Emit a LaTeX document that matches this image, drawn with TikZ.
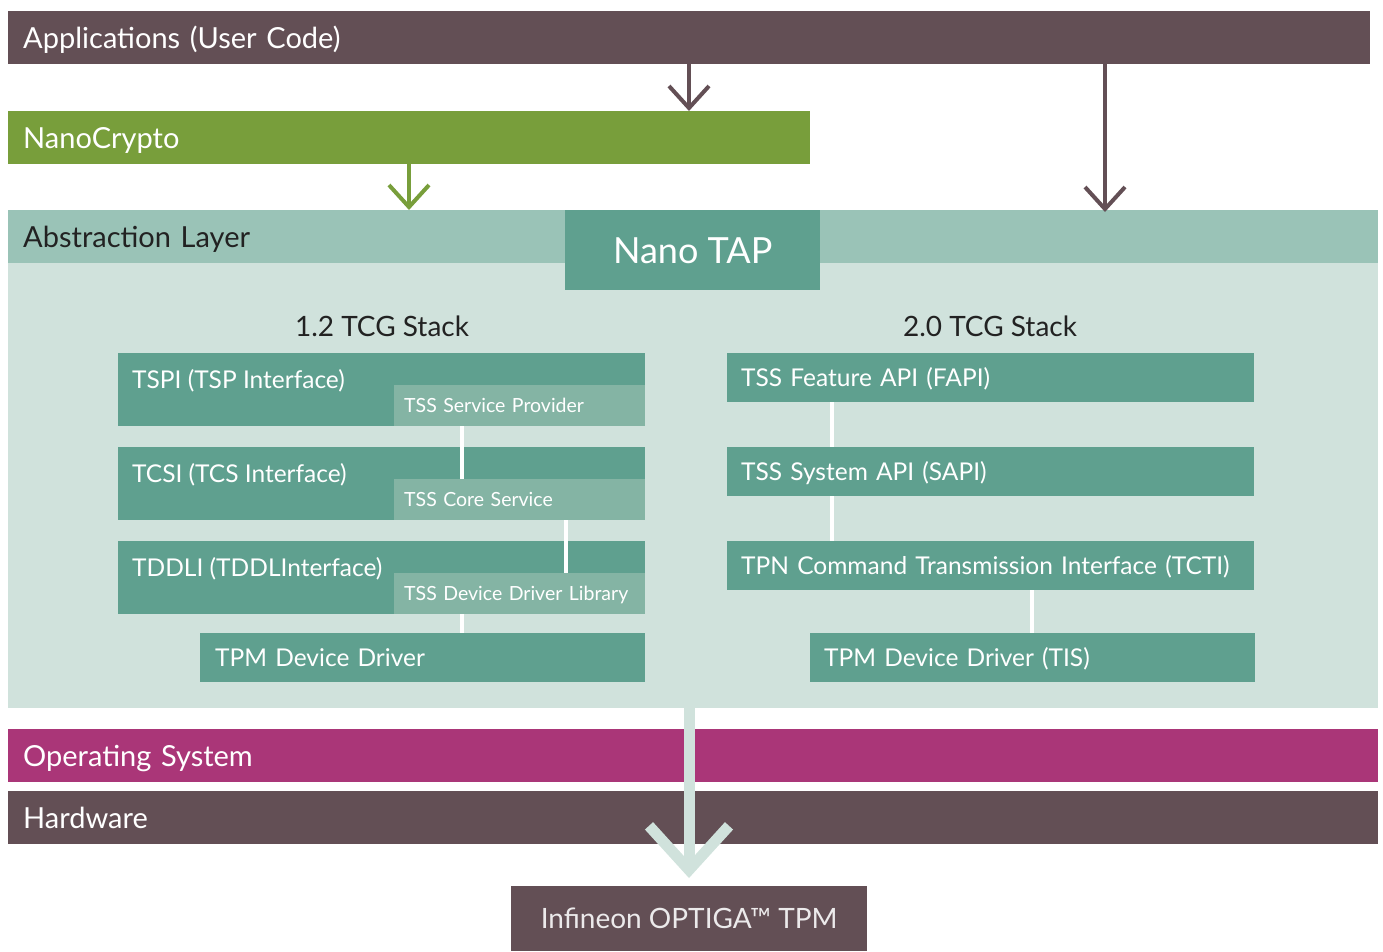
\documentclass[tikz,border=0pt]{standalone}
\usepackage{fontspec}
\setmainfont{Lato}
\usetikzlibrary{arrows.meta}
\definecolor{mauve}{HTML}{634F55}
\definecolor{leaf}{HTML}{789E3B}
\definecolor{abshead}{HTML}{9AC3B7}
\definecolor{absbody}{HTML}{D0E2DC}
\definecolor{teal}{HTML}{5FA08F}
\definecolor{subteal}{HTML}{84B4A4}
\definecolor{magenta}{HTML}{AA3678}
\definecolor{darktext}{HTML}{222222}
\begin{document}
\begin{tikzpicture}[x=1pt,y=-1pt,
  bar/.style={rectangle,inner ysep=0pt,inner xsep=15pt,anchor=north west,align=left,text=white,text height=21pt,text depth=0pt,font=\fontsize{29}{33}\selectfont},
  tbox/.style={rectangle,inner ysep=0pt,inner xsep=14pt,anchor=north west,align=left,text=white,fill=teal,text height=17.6pt,text depth=0pt,font=\fontsize{24.5}{28}\selectfont},
  subbox/.style={rectangle,inner ysep=0pt,inner xsep=10pt,anchor=north west,align=left,text=white,fill=subteal,minimum height=41pt,text width=231pt,text height=14pt,text depth=0pt,font=\fontsize{19.5}{23}\selectfont},
  boxlabel/.style={anchor=base west,inner sep=0pt,text=white,font=\fontsize{24.5}{28}\selectfont},
  stacklabel/.style={text=darktext,inner sep=0pt,text height=20pt,text depth=0pt,font=\fontsize{28}{32}\selectfont},
  wline/.style={draw=white,line width=4pt},
  marrow/.style={draw=mauve,line width=4pt,-{Straight Barb[length=22pt,width=40pt]}},
  garrow/.style={draw=leaf,line width=4pt,-{Straight Barb[length=22pt,width=40pt]}},
  bigarrow/.style={draw=absbody,line width=11pt,-{Straight Barb[length=44pt,width=80pt]}}
]
\useasboundingbox (0,0) rectangle (1383,951);

% top layers
\node[bar,fill=mauve,minimum height=53pt,text width=1332pt] (apps) at (8,11) {Applications (User Code)};
\node[bar,fill=leaf,minimum height=53pt,text width=772pt] (nano) at (8,111) {NanoCrypto};

% abstraction layer
\node[rectangle,inner sep=0pt,anchor=north west,fill=absbody,minimum width=1370pt,minimum height=445pt] (abs) at (8,263) {};
\node[bar,fill=abshead,text=darktext,minimum height=53pt,text width=1340pt] (abshead) at (8,210) {Abstraction Layer};
\node[rectangle,inner sep=0pt,anchor=north west,fill=teal,text=white,minimum width=255pt,minimum height=80pt,text height=26pt,text depth=0pt,font=\fontsize{36}{40}\selectfont] (tap) at (565,210) {Nano TAP};

\node[stacklabel] (st12) at (382,326) {1.2 TCG Stack};
\node[stacklabel] (st20) at (990,326) {2.0 TCG Stack};

% 1.2 stack
\node[tbox,minimum height=73pt,text width=499pt] (tspi) at (118,353) {};
\node[boxlabel] (tspit) at (132,388) {TSPI (TSP Interface)};
\node[subbox] (tspisub) at (394,385) {TSS Service Provider};

\node[tbox,minimum height=73pt,text width=499pt] (tcsi) at (118,447) {};
\node[boxlabel] (tcsit) at (132,482) {TCSI (TCS Interface)};
\node[subbox] (tcsisub) at (394,479) {TSS Core Service};

\node[tbox,minimum height=73pt,text width=499pt] (tddli) at (118,541) {};
\node[boxlabel] (tddlit) at (132,576) {TDDLI (TDDLInterface)};
\node[subbox] (tddlisub) at (394,573) {TSS Device Driver Library};

\node[tbox,inner xsep=15pt,minimum height=49pt,text width=415pt] (tpmdd) at (200,633) {TPM Device Driver};

% 2.0 stack
\node[tbox,minimum height=49pt,text width=499pt] (fapi) at (727,353) {TSS Feature API (FAPI)};
\node[tbox,minimum height=49pt,text width=499pt] (sapi) at (727,447) {TSS System API (SAPI)};
\node[tbox,minimum height=49pt,text width=499pt] (tcti) at (727,541) {TPN Command Transmission Interface (TCTI)};
\node[tbox,minimum height=49pt,text width=417pt] (tis) at (810,633) {TPM Device Driver (TIS)};

% connector x positions
\coordinate (xa) at (462,0);
\coordinate (xb) at (566,0);
\coordinate (xc) at (832,0);
\coordinate (xd) at (1032,0);
\coordinate (xm) at (689,0);
\coordinate (xg) at (409,0);
\coordinate (xr) at (1105,0);

\draw[wline] (tspisub.south -| xa) -- (tcsisub.north -| xa);
\draw[wline] (tcsisub.south -| xb) -- (tddlisub.north -| xb);
\draw[wline] (tddlisub.south -| xa) -- (tpmdd.north -| xa);
\draw[wline] (fapi.south -| xc) -- (sapi.north -| xc);
\draw[wline] (sapi.south -| xc) -- (tcti.north -| xc);
\draw[wline] (tcti.south -| xd) -- (tis.north -| xd);

% bottom layers
\node[bar,fill=magenta,minimum height=53pt,text width=1340pt] (os) at (8,729) {Operating System};
\node[bar,fill=mauve,minimum height=53pt,text width=1340pt] (hw) at (8,791) {Hardware};
\node[rectangle,inner sep=0pt,anchor=north west,fill=mauve,text=white!88!mauve,minimum width=356pt,minimum height=65pt,text height=20pt,text depth=0pt,font=\fontsize{28}{32}\selectfont] (tpm) at (511,886) {Infineon OPTIGA™ TPM};

% arrows
\draw[marrow] (apps.south -| xm) -- (nano.north -| xm);
\draw[garrow] (nano.south -| xg) -- (abshead.north -| xg);
\draw[marrow] (apps.south -| xr) -- ([yshift=-2pt]abshead.north -| xr);
\draw[bigarrow,shorten >=8pt] (abs.south -| xm) -- (tpm.north -| xm);
\end{tikzpicture}
\end{document}
